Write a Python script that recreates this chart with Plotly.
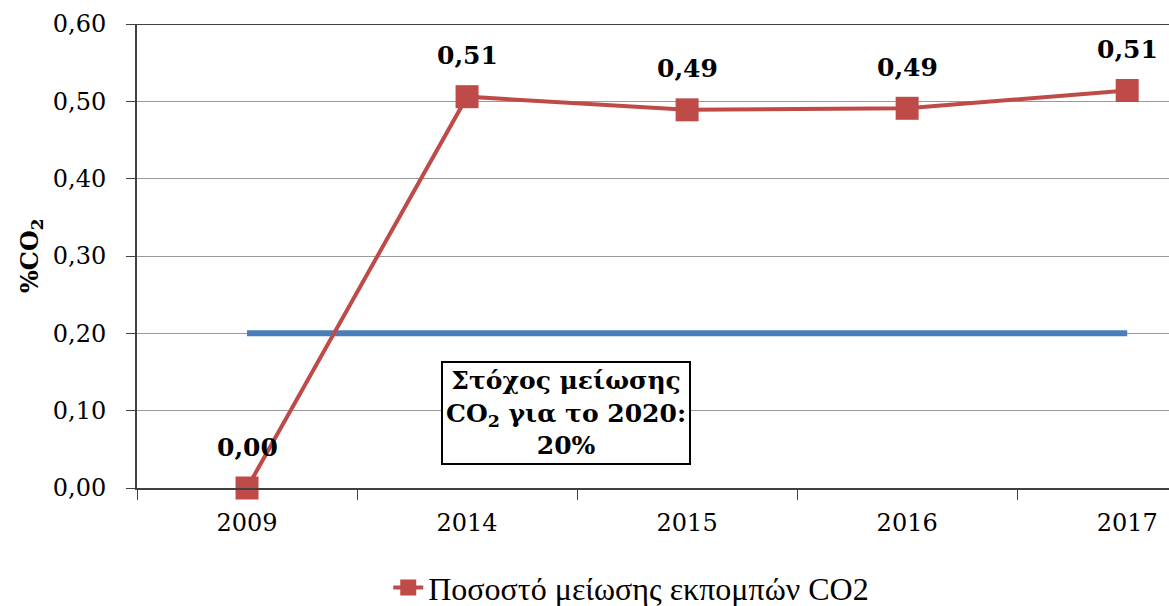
import plotly.graph_objects as go

years = ["2009", "2014", "2015", "2016", "2017"]
reduction = [0.00, 0.506, 0.489, 0.491, 0.514]
target = [0.20, 0.20, 0.20, 0.20, 0.20]
series_name = "Ποσοστό μείωσης εκπομπών CO2"
y_ticks = [0.0, 0.1, 0.2, 0.3, 0.4, 0.5, 0.6]

SERIF = "'DejaVu Serif', serif"
TIMES = "'Liberation Serif', serif"

fig = go.Figure()
fig.add_trace(go.Scatter(
    x=years, y=target, mode="lines", showlegend=False,
    line=dict(color="#4A7EBB", width=6), hoverinfo="skip"))
fig.add_trace(go.Scatter(
    x=years, y=reduction, mode="lines+markers", name=series_name,
    line=dict(color="#BE4B48", width=4), cliponaxis=False,
    marker=dict(symbol="square", size=23, color="#BE4B48")))

for i, v in enumerate(reduction):
    fig.add_annotation(
        x=i, y=v, xref="x", yref="y", yshift=41, showarrow=False,
        text="<b>" + f"{v:.2f}".replace(".", ",") + "</b>",
        font=dict(family=SERIF, size=25, color="black"))

fig.add_annotation(
    x=1.45, y=0.097, xref="x", yref="y",
    text="<b>Στόχος μείωσης<br>CO<sub>2</sub> για το 2020:<br>20%</b>",
    showarrow=False, font=dict(family=SERIF, size=25, color="black"),
    bgcolor="white", bordercolor="black", borderwidth=2, borderpad=3, align="center")

fig.add_annotation(
    x=0, y=0.5, xref="paper", yref="paper", xshift=-124, textangle=-90,
    text="<b>%CO<sub>2</sub></b>", showarrow=False,
    font=dict(family=SERIF, size=24, color="black"))

fig.add_shape(type="line", xref="paper", yref="y", x0=0, x1=1, y0=0.6, y1=0.6,
              line=dict(color="#404040", width=2))

fig.update_layout(
    width=1169, height=606,
    margin=dict(l=137, r=0, t=24, b=118, autoexpand=False),
    paper_bgcolor="white", plot_bgcolor="white",
    separators=",.",
    font=dict(family=SERIF, color="black"),
    showlegend=True,
    legend=dict(orientation="h", xref="container", yref="container",
                x=0.54, xanchor="center", y=0.03, yanchor="middle",
                font=dict(family=TIMES, size=32)),
    xaxis=dict(
        type="category", range=[-0.5, 4.19],
        showline=True, linecolor="#404040", linewidth=2,
        ticks="outside", ticklen=10, tickcolor="#404040", tickson="boundaries",
        ticklabelstandoff=12,
        tickfont=dict(family=SERIF, size=24), showgrid=False, automargin=False),
    yaxis=dict(
        range=[0, 0.6], tickvals=y_ticks, tickformat=".2f",
        showline=True, linecolor="#404040", linewidth=2,
        ticks="outside", ticklen=9, tickcolor="#404040", ticklabelstandoff=15,
        tickfont=dict(family=SERIF, size=24), automargin=False,
        showgrid=True, gridcolor="#999999", gridwidth=1, zeroline=False),
)

fig.write_html("out.html", config={"displayModeBar": False},
               post_script="document.body.style.margin='0';")
